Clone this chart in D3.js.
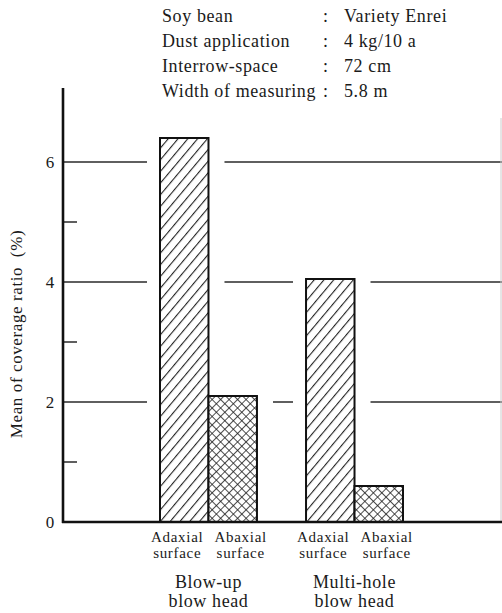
<!DOCTYPE html>
<html>
<head>
<meta charset="utf-8">
<script src="https://cdn.jsdelivr.net/npm/d3@7/dist/d3.min.js"></script>
<style>
  body { margin: 0; background: #fff; }
  svg { display: block; }
  svg text { fill: #1a1a1a; font-family: "Liberation Serif", "DejaVu Serif", serif; }
</style>
</head>
<body>
<div id="chart"></div>
<script>
// --- data ---
const groups = ["Blow-up", "Multi-hole"];
const groupLabels = [["Blow-up", "blow head"], ["Multi-hole", "blow head"]];
const surfaces = ["Adaxial", "Abaxial"];
const adaxialValues = [6.4, 4.05];
const abaxialValues = [2.1, 0.6];
const majorTicks = [0, 2, 4, 6];
const minorTicks = [1, 3, 5];
const infoLabels = ["Soy bean", "Dust application", "Interrow-space", "Width of measuring"];
const infoValues = ["Variety Enrei", "4 kg/10 a", "72 cm", "5.8 m"];

const width = 502, height = 613;
const left = 63, right = 502, base = 522;

const svg = d3.select("#chart").append("svg")
  .attr("width", width).attr("height", height);

// hatch patterns
const defs = svg.append("defs");
const diag = defs.append("pattern").attr("id", "diag")
  .attr("patternUnits", "userSpaceOnUse").attr("width", 7.5).attr("height", 7.5)
  .attr("patternTransform", "rotate(40)");
diag.append("rect").attr("width", 7.5).attr("height", 7.5).attr("fill", "#fff");
diag.append("line").attr("x1", 0).attr("y1", 0).attr("x2", 0).attr("y2", 7.5)
  .attr("stroke", "#222").attr("stroke-width", 2.2);

const cross = defs.append("pattern").attr("id", "cross")
  .attr("patternUnits", "userSpaceOnUse").attr("width", 6).attr("height", 6)
  .attr("patternTransform", "rotate(45)");
cross.append("rect").attr("width", 6).attr("height", 6).attr("fill", "#fff");
cross.append("line").attr("x1", 0).attr("y1", 0).attr("x2", 0).attr("y2", 6)
  .attr("stroke", "#222").attr("stroke-width", 1.6);
cross.append("line").attr("x1", 0).attr("y1", 0).attr("x2", 6).attr("y2", 0)
  .attr("stroke", "#222").attr("stroke-width", 1.6);

// scales
const y = d3.scaleLinear().domain([0, 6]).range([base, 162]);
const x0 = d3.scaleBand().domain(groups).range([160, 403]).paddingInner(0.336);
const x1 = d3.scaleBand().domain(surfaces).range([0, x0.bandwidth()]);

const bars = [];
groups.forEach((g, i) => {
  bars.push({ group: g, surface: "Adaxial", value: adaxialValues[i] });
  bars.push({ group: g, surface: "Abaxial", value: abaxialValues[i] });
});
bars.forEach(d => {
  d.x0 = x0(d.group) + x1(d.surface);
  d.x1 = d.x0 + x1.bandwidth();
});

// header block
const info = svg.append("g").attr("font-size", 18).attr("letter-spacing", 0.6);
infoLabels.forEach((t, i) => {
  const yy = 21.5 + i * 25;
  info.append("text").attr("x", 162).attr("y", yy).text(t);
  info.append("text").attr("x", 323).attr("y", yy).text(":");
  info.append("text").attr("x", 344).attr("y", yy).text(infoValues[i]);
});

// gridlines, broken around the bars that rise above them
const gapL = 13, gapR = 16;
majorTicks.filter(v => v > 0).forEach(v => {
  const cuts = bars.filter(b => b.value > v)
    .map(b => [b.x0 - gapL, b.x1 + gapR]).sort((a, b) => a[0] - b[0]);
  let start = left;
  const segs = [];
  cuts.forEach(c => {
    if (c[0] > start) segs.push([start, c[0]]);
    start = Math.max(start, c[1]);
  });
  if (start < right) segs.push([start, right]);
  svg.selectAll(null).data(segs).enter().append("line")
    .attr("x1", d => d[0]).attr("x2", d => d[1])
    .attr("y1", y(v)).attr("y2", y(v))
    .attr("stroke", "#2a2a2a").attr("stroke-width", 1.5);
});

// minor ticks
svg.selectAll(".minor").data(minorTicks).enter().append("line")
  .attr("x1", left).attr("x2", left + 14)
  .attr("y1", d => y(d)).attr("y2", d => y(d))
  .attr("stroke", "#2a2a2a").attr("stroke-width", 1.5);

// faint right edge
svg.append("line").attr("x1", 501).attr("x2", 501).attr("y1", 118).attr("y2", base)
  .attr("stroke", "#ccc").attr("stroke-width", 1);

// bars
svg.selectAll(".bar").data(bars).enter().append("rect")
  .attr("x", d => d.x0).attr("width", d => d.x1 - d.x0)
  .attr("y", d => y(d.value)).attr("height", d => base - y(d.value))
  .attr("fill", d => d.surface === "Adaxial" ? "url(#diag)" : "url(#cross)")
  .attr("stroke", "#111").attr("stroke-width", 2);

// axes
svg.append("line").attr("x1", left).attr("x2", left).attr("y1", 88).attr("y2", base + 1)
  .attr("stroke", "#111").attr("stroke-width", 2.6);
svg.append("line").attr("x1", left - 1).attr("x2", right).attr("y1", base).attr("y2", base)
  .attr("stroke", "#111").attr("stroke-width", 2.6);

// y tick labels
svg.selectAll(".ytl").data(majorTicks).enter().append("text")
  .attr("x", 50).attr("y", d => y(d) + 6)
  .attr("text-anchor", "middle").attr("font-size", 17)
  .text(d => d);

// y title
svg.append("text")
  .attr("transform", `translate(22,334) rotate(-90)`)
  .attr("text-anchor", "middle")
  .attr("font-size", 17).attr("letter-spacing", 0.6)
  .text("Mean of coverage ratio\u00a0\u00a0(%)");

// bar labels
const off = { Adaxial: -7, Abaxial: 8 };
const bl = svg.append("g").attr("font-size", 15).attr("letter-spacing", 0.7)
  .attr("text-anchor", "middle");
bars.forEach(d => {
  const cx = (d.x0 + d.x1) / 2 + off[d.surface];
  bl.append("text").attr("x", cx).attr("y", 542).text(d.surface);
  bl.append("text").attr("x", cx).attr("y", 558).text("surface");
});

// group labels
const gl = svg.append("g").attr("font-size", 18).attr("letter-spacing", 0.6)
  .attr("text-anchor", "middle");
groups.forEach((g, i) => {
  const cx = x0(g) + x0.bandwidth() / 2;
  gl.append("text").attr("x", cx).attr("y", 588).text(groupLabels[i][0]);
  gl.append("text").attr("x", cx).attr("y", 607).text(groupLabels[i][1]);
});
</script>
</body>
</html>
